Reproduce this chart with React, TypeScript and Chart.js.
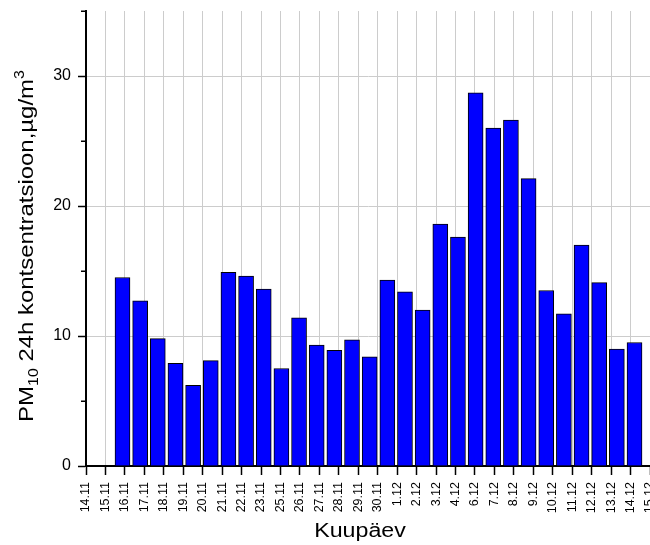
import React, { useEffect, useRef } from "react";
import { Chart, registerables } from "chart.js";

Chart.register(...registerables);

const categories = [
  "14.11", "15.11", "16.11", "17.11", "18.11", "19.11", "20.11", "21.11", "22.11", "23.11",
  "25.11", "26.11", "27.11", "28.11", "29.11", "30.11", "1.12", "2.12", "3.12", "4.12",
  "6.12", "7.12", "8.12", "9.12", "10.12", "11.12", "12.12", "13.12", "14.12", "15.12",
];

const pm10Values = [
  14.5, 12.7, 9.8, 7.9, 6.2, 8.1, 14.9, 14.6, 13.6, 7.5,
  11.4, 9.3, 8.9, 9.7, 8.4, 14.3, 13.4, 12.0, 18.6, 17.6,
  28.7, 26.0, 26.6, 22.1, 13.5, 11.7, 17.0, 14.1, 9.0, 9.5,
];

const barPositions = pm10Values.map((_, i) => i);
const yMinorTicks = [5, 15, 25, 35];
const xTitle = "Kuupäev";
const yTitleParts = [
  { text: "PM", kind: "main" },
  { text: "10", kind: "sub" },
  { text: " 24h kontsentratsioon,µg/m", kind: "main" },
  { text: "3", kind: "sup" },
];

const FONT = "'Liberation Sans', Arial, Helvetica, sans-serif";

const titlesPlugin = {
  id: "customTitles",
  afterDraw(chart: any) {
    const ctx = chart.ctx as CanvasRenderingContext2D;
    const area = chart.chartArea;
    const yScale = chart.scales.y;
    ctx.save();
    ctx.strokeStyle = "#000";
    ctx.lineWidth = 1.5;
    yMinorTicks.forEach((v) => {
      const py = Math.round(yScale.getPixelForValue(v)) + 0.25;
      ctx.beginPath();
      ctx.moveTo(area.left - 5, py);
      ctx.lineTo(area.left, py);
      ctx.stroke();
    });

    ctx.fillStyle = "#000";
    ctx.textBaseline = "alphabetic";

    ctx.save();
    ctx.font = `20px ${FONT}`;
    ctx.textAlign = "center";
    ctx.translate(360, 537);
    ctx.scale(1.16, 1);
    ctx.fillText(xTitle, 0, 0);
    ctx.restore();

    const mainSize = 21;
    const smallSize = 14;
    const widths = yTitleParts.map((p) => {
      ctx.font = `${p.kind === "main" ? mainSize : smallSize}px ${FONT}`;
      return ctx.measureText(p.text).width;
    });
    const total = widths.reduce((a, b) => a + b, 0);
    ctx.save();
    ctx.translate(33, 246);
    ctx.rotate(-Math.PI / 2);
    ctx.scale(1.14, 1);
    ctx.textAlign = "left";
    let x = -total / 2;
    yTitleParts.forEach((p, i) => {
      ctx.font = `${p.kind === "main" ? mainSize : smallSize}px ${FONT}`;
      const dy = p.kind === "sub" ? 5 : p.kind === "sup" ? -9 : 0;
      ctx.fillText(p.text, x, dy);
      x += widths[i];
    });
    ctx.restore();
    ctx.restore();
  },
};

export default function App() {
  const canvasRef = useRef<HTMLCanvasElement | null>(null);

  useEffect(() => {
    if (!canvasRef.current) return;
    const chart = new Chart(canvasRef.current, {
      type: "bar",
      data: {
        labels: categories,
        datasets: [
          {
            label: "PM10",
            data: barPositions.map((p, i) => ({ x: p, y: pm10Values[i] })) as any,
            xAxisID: "xb",
            yAxisID: "y",
            backgroundColor: "#0000ff",
            borderColor: "#000000",
            borderWidth: 1,
            barThickness: 15,
          },
        ],
      },
      options: {
        animation: false,
        responsive: false,
        maintainAspectRatio: false,
        layout: { padding: { top: 11, left: 0, right: 0, bottom: 0 } },
        plugins: {
          legend: { display: false },
          tooltip: { enabled: false },
        },
        scales: {
          x: {
            type: "category",
            position: "bottom",
            labels: categories,
            min: categories[0],
            max: categories[categories.length - 1],
            offset: false,
            grid: {
              display: true,
              offset: false,
              drawOnChartArea: true,
              drawTicks: true,
              color: "#cccccc",
              lineWidth: 1,
              tickLength: 9,
              tickColor: "#000",
              tickWidth: 1.5,
            },
            border: { display: true, color: "#000", width: 2 },
            ticks: {
              autoSkip: false,
              minRotation: 90,
              maxRotation: 90,
              padding: 7,
              color: "#000",
              font: { family: FONT, size: 12.5 },
            },
            afterFit: (scale: any) => {
              scale.height = 79;
              scale.paddingLeft = 0;
              scale.paddingRight = 0;
            },
          },
          xb: {
            type: "linear",
            position: "bottom",
            display: false,
            offset: false,
            min: -2.067,
            max: 29.877,
            grid: { display: false, offset: false },
          },
          y: {
            type: "linear",
            position: "left",
            min: 0,
            max: 35,
            grid: {
              display: true,
              color: (c: any) => (c.tick && c.tick.value > 0 ? "#cccccc" : "rgba(0,0,0,0)"),
              lineWidth: 1,
              tickLength: 8,
              tickColor: "#000",
              tickWidth: 1.5,
            },
            border: { display: true, color: "#000", width: 2 },
            ticks: {
              stepSize: 10,
              includeBounds: false,
              padding: 7,
              color: "#000",
              font: { family: FONT, size: 16 },
            },
            afterFit: (scale: any) => {
              scale.width = 86;
              scale.paddingTop = 0;
              scale.paddingBottom = 0;
            },
          },
        },
      },
      plugins: [titlesPlugin],
    });
    return () => chart.destroy();
  }, []);

  return (
    <div style={{ position: "fixed", left: 0, top: 0, width: 650, height: 545, background: "#fff" }}>
      <canvas ref={canvasRef} width={650} height={545} style={{ display: "block" }} />
    </div>
  );
}
